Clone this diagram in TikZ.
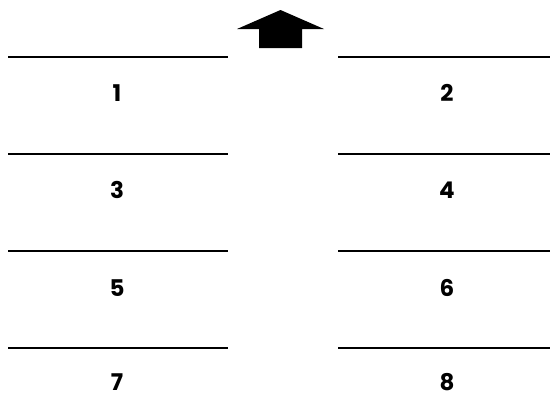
\documentclass[tikz,border=0pt]{standalone}
\usepackage{fontspec}
\setmainfont{Poppins}
\begin{document}
\begin{tikzpicture}[x=1pt,y=-1pt,
  rowline/.style={line width=2pt,black},
  digit/.style={font=\fontsize{23}{27}\selectfont\bfseries,inner sep=0pt,text height=16pt,text depth=0pt,anchor=center}]
\useasboundingbox (0,0) rectangle (550,394);
% arrow
\fill[black] (280.5,10) -- (324,29) -- (302,29) -- (302,48) -- (259,48) -- (259,29) -- (237,29) -- cycle;
% lines
\foreach \y in {57,154,251,348}{
  \draw[rowline] (8,\y) -- (228,\y);
  \draw[rowline] (338,\y) -- (550,\y);
}
\node[digit] (n1) at (117,93) {1};
\node[digit] (n2) at (447,93) {2};
\node[digit] (n3) at (117,190) {3};
\node[digit] (n4) at (447,190) {4};
\node[digit] (n5) at (117,288) {5};
\node[digit] (n6) at (447,288) {6};
\node[digit] (n7) at (117,382) {7};
\node[digit] (n8) at (447,382) {8};
\end{tikzpicture}
\end{document}
